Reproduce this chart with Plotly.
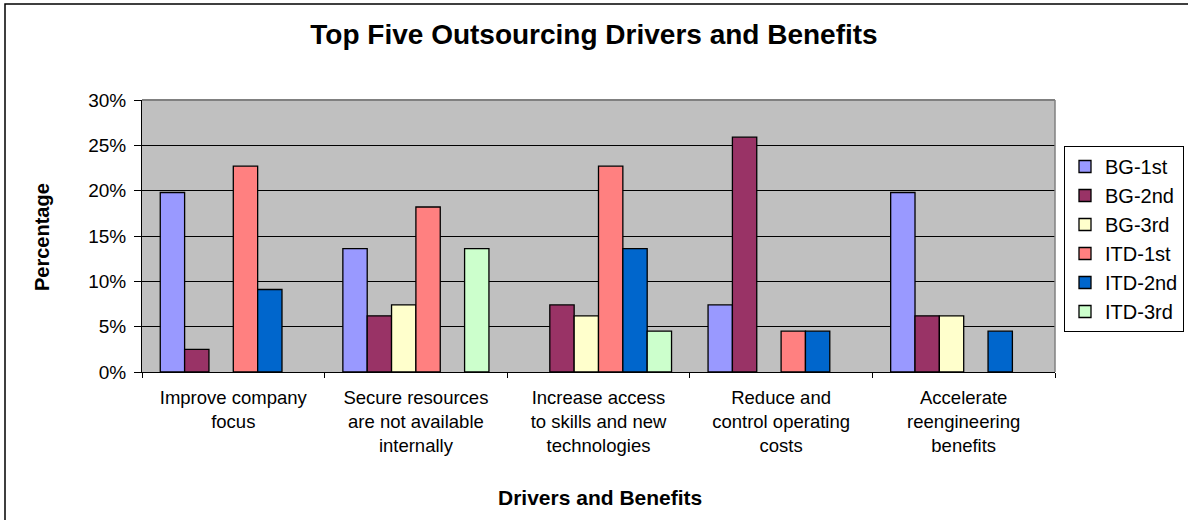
import plotly.graph_objects as go

# Survey categories (tick labels) and the share of respondents per ranking, in %
categories = [
    "Improve company<br>focus",
    "Secure resources<br>are not available<br>internally",
    "Increase access<br>to skills and new<br>technologies",
    "Reduce and<br>control operating<br>costs",
    "Accelerate<br>reengineering<br>benefits",
]

bg_1st = [19.8, 13.6, None, 7.4, 19.8]
bg_2nd = [2.5, 6.2, 7.4, 25.9, 6.2]
bg_3rd = [None, 7.4, 6.2, None, 6.2]
itd_1st = [22.7, 18.2, 22.7, 4.5, None]
itd_2nd = [9.1, None, 13.6, 4.5, 4.5]
itd_3rd = [None, 13.6, 4.5, None, None]

series_names = ["BG-1st", "BG-2nd", "BG-3rd", "ITD-1st", "ITD-2nd", "ITD-3rd"]
series_values = [bg_1st, bg_2nd, bg_3rd, itd_1st, itd_2nd, itd_3rd]
series_colors = ["#9999FF", "#993366", "#FFFFCC", "#FF8080", "#0066CC", "#CCFFCC"]

FONT = "Liberation Sans, Arial, sans-serif"
W, H = 1188, 520
L, R, T, B = 142, 133, 100, 148

fig = go.Figure()
for name, vals, col in zip(series_names, series_values, series_colors):
    fig.add_trace(go.Bar(
        name=name, x=categories, y=vals,
        marker=dict(color=col, line=dict(color="black", width=1.3)),
    ))

pw = W - L - R
ph = H - T - B

def px_x(x):
    return (x - L) / pw

def px_y(y):
    return (H - B - y) / ph

fig.update_layout(
    width=W, height=H,
    margin=dict(l=L, r=R, t=T, b=B, pad=0, autoexpand=False),
    paper_bgcolor="white",
    plot_bgcolor="#C0C0C0",
    barmode="group",
    bargap=0.2,
    bargroupgap=0,
    font=dict(family=FONT, size=19, color="black"),
    title=dict(
        text="<b>Top Five Outsourcing Drivers and Benefits</b>",
        font=dict(family=FONT, size=28, color="black"),
        x=0.5, xref="container", xanchor="center",
        y=1 - 34 / H, yref="container", yanchor="middle",
    ),
    legend=dict(
        xref="container", yref="container",
        x=1064 / W, y=1 - 146 / H, xanchor="left", yanchor="top",
        bordercolor="black", borderwidth=1, bgcolor="white",
        font=dict(family=FONT, size=20, color="black"),
        tracegroupgap=0,
    ),
    showlegend=True,
)

fig.update_xaxes(
    automargin=False,
    showline=True, linecolor="black", linewidth=1,
    ticks="outside", ticklen=5, tickcolor="black", tickson="boundaries",
    ticklabelstandoff=9,
    tickfont=dict(family=FONT, size=18.5),
    showgrid=False,
)
fig.update_yaxes(
    automargin=False,
    range=[0, 30], dtick=5, ticksuffix="%",
    showline=True, linecolor="black", linewidth=1,
    ticks="outside", ticklen=7, tickcolor="black",
    ticklabelstandoff=4,
    tickfont=dict(family=FONT, size=19),
    showgrid=True, gridcolor="black", gridwidth=1,
    zeroline=False,
)

# axis titles
fig.add_annotation(text="<b>Drivers and Benefits</b>", xref="paper", yref="paper",
                   x=px_x(600), y=px_y(497), xanchor="center", yanchor="middle",
                   showarrow=False, font=dict(family=FONT, size=21, color="black"))
fig.add_annotation(text="<b>Percentage</b>", xref="paper", yref="paper",
                   x=px_x(42), y=px_y(237), xanchor="center", yanchor="middle",
                   textangle=-90, showarrow=False, font=dict(family=FONT, size=20, color="black"))

# plot-area frame: grey on the top and right edges
fig.add_shape(type="line", xref="paper", yref="paper", x0=0, x1=1, y0=1, y1=1,
              line=dict(color="#808080", width=2), layer="above")
fig.add_shape(type="line", xref="paper", yref="paper", x0=1, x1=1, y0=0, y1=1,
              line=dict(color="#808080", width=1.5), layer="above")

# outer chart border
fig.add_shape(type="rect", xref="paper", yref="paper",
              x0=px_x(5), x1=px_x(1210), y0=px_y(4), y1=px_y(540),
              line=dict(color="black", width=1.5), fillcolor="rgba(0,0,0,0)", layer="above")

fig.write_html("out.html")
